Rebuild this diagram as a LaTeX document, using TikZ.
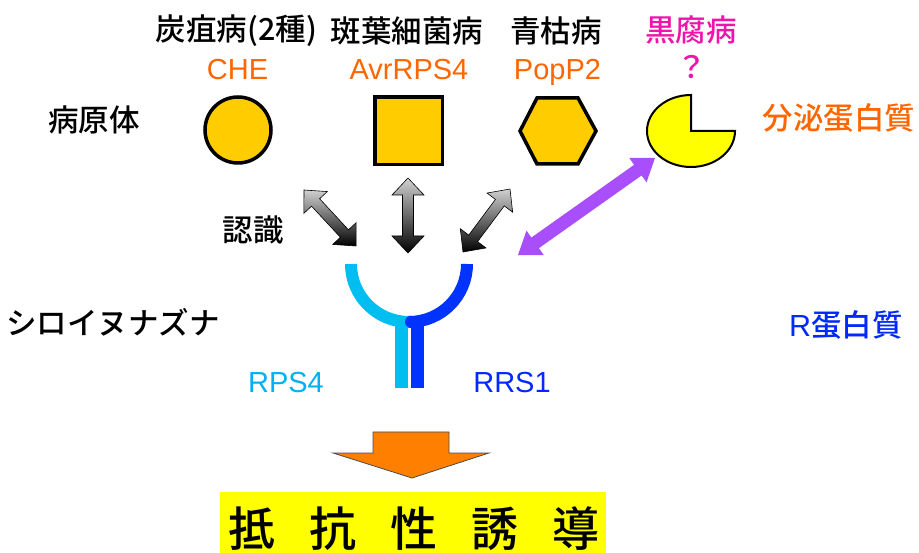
\documentclass[tikz,border=0pt]{standalone}
\usepackage{fontspec}
\setmainfont{Noto Sans CJK JP}[UprightFont=* Medium]
\newfontfamily\lat{Liberation Sans}
\usetikzlibrary{calc}
\definecolor{orangetext}{RGB}{255,102,0}
\definecolor{magentatext}{RGB}{240,20,170}
\definecolor{rpscyan}{RGB}{0,176,240}
\definecolor{rrsblue}{RGB}{0,40,255}
\definecolor{arccyan}{RGB}{0,190,240}
\definecolor{arcblue}{RGB}{0,51,255}
\definecolor{gold}{RGB}{255,204,0}
\definecolor{pacyellow}{RGB}{255,255,0}
\definecolor{arroworange}{RGB}{255,127,0}
\definecolor{purplearrow}{RGB}{168,78,250}
\newcommand\dblarrow[6]{%
  \coordinate (HA) at ($(#1)!#3!(#2)$);
  \coordinate (HB) at ($(#2)!#3!(#1)$);
  \path[#6] (#1) -- ($(HA)!#4!90:(#2)$) -- ($(HA)!#5!90:(#2)$)
    -- ($(HB)!#5!-90:(#1)$) -- ($(HB)!#4!-90:(#1)$) -- (#2)
    -- ($(HB)!#4!90:(#1)$) -- ($(HB)!#5!90:(#1)$)
    -- ($(HA)!#5!-90:(#2)$) -- ($(HA)!#4!-90:(#2)$) -- cycle;}
\begin{document}
\begin{tikzpicture}[x=1pt,y=-1pt,
  txt/.style={inner sep=0pt,font=\fontsize{30.5}{36}\selectfont},
  lt/.style={inner sep=0pt,font=\lat\fontsize{29}{34}\selectfont,anchor=base},
  pshape/.style={draw=black,line width=3.5pt,fill=gold},
  graydbl/.style={draw=black,line width=0.6pt,top color=black!18,bottom color=black},
  purpledbl/.style={fill=purplearrow}]
\useasboundingbox (0,0) rectangle (919,553);
% top labels
\node[txt] (t1) at (236.5,31) {炭疽病(2種)};
\node[txt] (t2) at (407,31) {斑葉細菌病};
\node[txt] (t3) at (556,31) {青枯病};
\node[txt,text=magentatext] (t4) at (691,30) {黒腐病};
\node[lt,text=orangetext] (che) at (237.5,80) {CHE};
\node[lt,text=orangetext] (avr) at (409,80) {AvrRPS4};
\node[lt,text=orangetext] (pop) at (557.5,80) {PopP2};
\node[txt,text=magentatext] (q) at (692,67) {？};
% side labels
\node[txt] (byo) at (94,120) {病原体};
\node[txt,text=orangetext] (bunpi) at (839,118) {分泌蛋白質};
\node[txt] (nin) at (253,230) {認識};
\node[txt] (shiro) at (113,322) {シロイヌナズナ};
\node[lt,text=rpscyan] (rps) at (286,393) {RPS4};
\node[lt,text=rrsblue] (rrs) at (512,393) {RRS1};
\node[txt,text=rrsblue] (rprot) at (846,325) {{\lat R}蛋白質};
% pathogen shapes
\node[pshape,circle,minimum size=66pt,inner sep=0pt] (circ) at (238,130) {};
\node[pshape,rectangle,minimum size=67.5pt,inner sep=0pt] (sq) at (408.5,131) {};
\draw[pshape,line join=miter] (520,131) -- (537,98) -- (578,98) -- (596,131) -- (578,164) -- (537,164) -- cycle;
\filldraw[fill=pacyellow,draw=black,line width=2pt,line join=miter]
  (691,131) -- (735,131) arc[start angle=0,end angle=270,x radius=44,y radius=36] -- cycle;
% recognition arrows
\coordinate (a1s) at (304,190); \coordinate (a1e) at (356,246);
\coordinate (a2s) at (408,178); \coordinate (a2e) at (408,253);
\coordinate (a3s) at (510,189); \coordinate (a3e) at (463,252);
\coordinate (pas) at (518,255); \coordinate (pae) at (655,158);
\dblarrow{a1s}{a1e}{17pt}{16pt}{5.5pt}{graydbl}
\dblarrow{a2s}{a2e}{17pt}{16pt}{5.5pt}{graydbl}
\dblarrow{a3s}{a3e}{17pt}{16pt}{5.5pt}{graydbl}
\dblarrow{pas}{pae}{21pt}{15pt}{6.5pt}{purpledbl}
% receptor
\fill[arccyan] (395,322) rectangle (408,388);
\fill[arcblue] (411,322) rectangle (424,388);
\draw[arccyan,line width=12pt] (351,264) arc[start angle=180,end angle=90,radius=58];
\draw[arcblue,line width=12pt] (409,322) arc[start angle=90,end angle=0,radius=58];
\fill[arcblue] (411,321.8) circle (6);
% output arrow and box
\filldraw[fill=arroworange,draw=black!70,line width=0.8pt,line join=miter]
  (373,432) -- (449,432) -- (449,453) -- (489,453) -- (412,478) -- (333,453) -- (373,453) -- cycle;
\node[fill=pacyellow,minimum width=386pt,minimum height=61pt,inner sep=0pt] (res) at (413,522.5) {};
\node[inner sep=0pt,font=\fontsize{47}{52}\selectfont] (restext) at (414,528.5) {\spaceskip=34pt 抵 抗 性 誘 導};
\end{tikzpicture}
\end{document}
